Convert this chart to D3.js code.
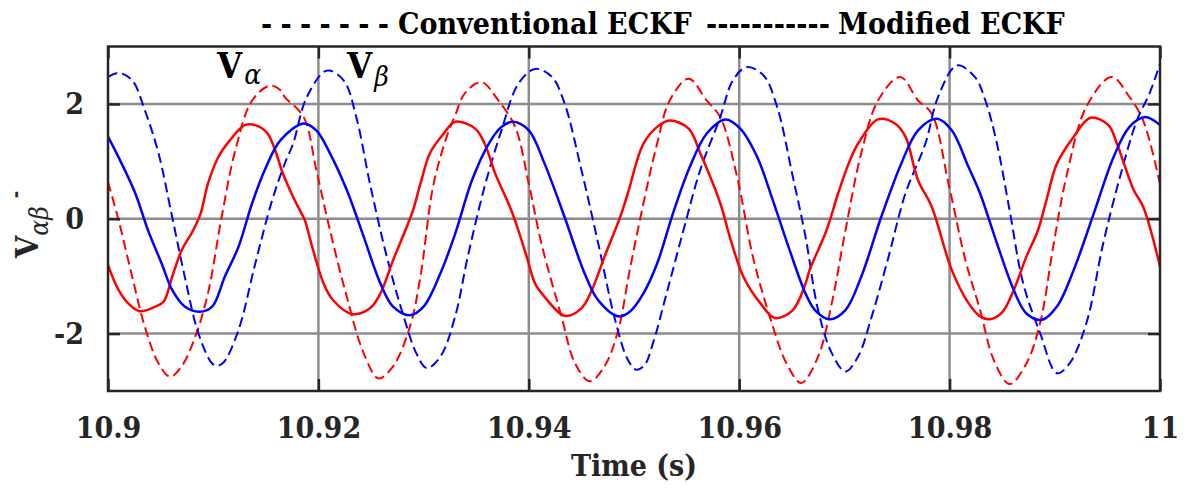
<!DOCTYPE html>
<html>
<head>
<meta charset="utf-8">
<script src="https://cdn.jsdelivr.net/npm/d3@7"></script>
<style>
  body { margin: 0; background: #fff; }
  .serif { font-family: "DejaVu Serif Condensed", "DejaVu Serif", serif; font-stretch: condensed; }
</style>
</head>
<body>
<div id="chart"></div>
<script>
// values: [time (s), voltage]
var redSolid = [
  [10.9000,-0.81],[10.9010,-1.24],[10.9019,-1.47],[10.9030,-1.61],[10.9045,-1.53],[10.9053,-1.44],
  [10.9061,-1.01],[10.9070,-0.55],[10.9081,-0.20],[10.9088,0.09],[10.9095,0.61],[10.9105,1.08],
  [10.9116,1.37],[10.9130,1.63],[10.9140,1.63],[10.9151,1.50],[10.9159,1.19],[10.9165,0.85],
  [10.9176,0.38],[10.9184,0.09],[10.9187,-0.02],[10.9195,-0.55],[10.9205,-1.13],[10.9214,-1.42],
  [10.9232,-1.66],[10.9249,-1.56],[10.9259,-1.30],[10.9271,-0.72],[10.9284,-0.14],[10.9290,0.15],
  [10.9297,0.61],[10.9306,1.14],[10.9319,1.48],[10.9330,1.69],[10.9349,1.57],[10.9358,1.31],
  [10.9368,0.79],[10.9382,0.21],[10.9389,-0.14],[10.9398,-0.66],[10.9406,-1.13],[10.9415,-1.36],
  [10.9434,-1.69],[10.9450,-1.56],[10.9460,-1.24],[10.9472,-0.66],[10.9482,-0.20],[10.9488,0.09],
  [10.9496,0.56],[10.9501,0.90],[10.9509,1.31],[10.9522,1.60],[10.9534,1.71],[10.9552,1.57],
  [10.9563,1.14],[10.9582,0.27],[10.9591,-0.31],[10.9604,-1.01],[10.9620,-1.47],[10.9634,-1.73],
  [10.9651,-1.59],[10.9663,-1.13],[10.9667,-0.89],[10.9683,-0.20],[10.9694,0.44],[10.9704,0.96],
  [10.9713,1.31],[10.9732,1.73],[10.9748,1.66],[10.9758,1.43],[10.9770,0.67],[10.9783,0.21],
  [10.9802,-0.89],[10.9818,-1.47],[10.9829,-1.70],[10.9838,-1.75],[10.9850,-1.63],[10.9861,-1.24],
  [10.9873,-0.66],[10.9884,-0.20],[10.9892,0.32],[10.9902,0.96],[10.9918,1.43],[10.9934,1.76],
  [10.9951,1.63],[10.9959,1.31],[10.9975,0.50],[10.9984,0.21],[11.0000,-0.83]
];

var blueSolid = [
  [10.9000,1.43],[10.9013,0.96],[10.9026,0.44],[10.9038,-0.20],[10.9051,-0.78],[10.9061,-1.24],
  [10.9073,-1.53],[10.9087,-1.62],[10.9099,-1.53],[10.9111,-1.01],[10.9124,-0.49],[10.9137,0.27],
  [10.9149,0.85],[10.9164,1.37],[10.9186,1.66],[10.9198,1.54],[10.9211,1.14],[10.9227,0.50],
  [10.9243,-0.31],[10.9259,-1.13],[10.9271,-1.53],[10.9287,-1.68],[10.9300,-1.53],[10.9316,-0.95],
  [10.9330,-0.26],[10.9346,0.67],[10.9362,1.31],[10.9374,1.60],[10.9385,1.69],[10.9400,1.54],
  [10.9415,0.96],[10.9434,0.03],[10.9453,-0.95],[10.9466,-1.42],[10.9485,-1.70],[10.9496,-1.62],
  [10.9509,-1.30],[10.9522,-0.78],[10.9537,0.09],[10.9553,0.90],[10.9569,1.48],[10.9587,1.73],
  [10.9601,1.57],[10.9617,1.08],[10.9632,0.32],[10.9648,-0.55],[10.9663,-1.30],[10.9672,-1.59],
  [10.9686,-1.75],[10.9701,-1.59],[10.9716,-1.01],[10.9735,0.03],[10.9754,0.96],[10.9770,1.54],
  [10.9788,1.74],[10.9802,1.54],[10.9818,0.90],[10.9829,0.44],[10.9845,-0.43],[10.9861,-1.24],
  [10.9873,-1.65],[10.9888,-1.76],[10.9902,-1.53],[10.9918,-0.89],[10.9937,0.09],[10.9956,1.08],
  [10.9971,1.60],[10.9986,1.77],[11.0000,1.63]
];

var redDashed = [
  [10.9000,0.64],[10.9010,-0.02],[10.9023,-1.01],[10.9035,-1.88],[10.9048,-2.52],[10.9059,-2.75],
  [10.9070,-2.57],[10.9083,-2.05],[10.9095,-1.30],[10.9108,0.03],[10.9121,1.19],[10.9137,2.06],
  [10.9154,2.32],[10.9164,2.24],[10.9168,2.12],[10.9186,1.77],[10.9198,0.85],[10.9211,-0.20],
  [10.9227,-1.36],[10.9243,-2.34],[10.9257,-2.78],[10.9271,-2.57],[10.9287,-1.88],[10.9297,-1.01],
  [10.9309,0.56],[10.9322,1.43],[10.9330,1.80],[10.9339,2.18],[10.9355,2.38],[10.9371,2.06],
  [10.9387,1.60],[10.9400,0.61],[10.9412,-0.43],[10.9431,-1.70],[10.9444,-2.52],[10.9458,-2.83],
  [10.9472,-2.57],[10.9485,-1.94],[10.9496,-0.89],[10.9509,0.27],[10.9522,1.31],[10.9534,2.06],
  [10.9552,2.44],[10.9569,2.06],[10.9582,1.77],[10.9598,0.73],[10.9613,-0.66],[10.9629,-1.70],
  [10.9645,-2.52],[10.9659,-2.86],[10.9675,-2.40],[10.9688,-1.47],[10.9701,-0.20],[10.9716,1.14],
  [10.9732,2.06],[10.9753,2.47],[10.9770,2.06],[10.9783,1.83],[10.9799,0.61],[10.9815,-0.72],
  [10.9829,-1.59],[10.9842,-2.46],[10.9857,-2.88],[10.9873,-2.52],[10.9886,-1.82],[10.9899,-0.43],
  [10.9911,0.73],[10.9930,1.95],[10.9954,2.47],[10.9971,2.12],[10.9984,1.71],[11.0000,0.61]
];

var blueDashed = [
  [10.9000,2.47],[10.9010,2.54],[10.9023,2.41],[10.9035,1.89],[10.9048,1.14],[10.9061,0.03],
  [10.9073,-1.01],[10.9086,-2.00],[10.9099,-2.52],[10.9104,-2.56],[10.9110,-2.50],[10.9124,-1.94],
  [10.9140,-0.78],[10.9156,0.32],[10.9168,0.96],[10.9176,1.31],[10.9189,2.12],[10.9208,2.58],
  [10.9224,2.41],[10.9236,1.77],[10.9249,0.61],[10.9265,-0.66],[10.9281,-1.70],[10.9293,-2.34],
  [10.9303,-2.60],[10.9316,-2.40],[10.9330,-1.70],[10.9342,-0.66],[10.9358,0.56],[10.9374,1.54],
  [10.9390,2.35],[10.9406,2.61],[10.9422,2.47],[10.9434,2.01],[10.9450,0.85],[10.9466,-0.43],
  [10.9482,-1.76],[10.9494,-2.45],[10.9502,-2.63],[10.9510,-2.55],[10.9518,-2.17],[10.9531,-1.30],
  [10.9547,-0.20],[10.9563,0.85],[10.9582,1.77],[10.9594,2.41],[10.9607,2.64],[10.9623,2.50],
  [10.9636,1.95],[10.9651,0.73],[10.9663,-0.31],[10.9675,-1.59],[10.9688,-2.34],[10.9701,-2.66],
  [10.9713,-2.40],[10.9726,-1.70],[10.9742,-0.66],[10.9758,0.44],[10.9777,1.31],[10.9789,2.12],
  [10.9807,2.67],[10.9824,2.47],[10.9834,2.06],[10.9845,1.31],[10.9857,0.15],[10.9870,-1.13],
  [10.9886,-1.99],[10.9902,-2.69],[10.9914,-2.52],[10.9930,-1.82],[10.9946,-0.43],[10.9962,0.73],
  [10.9978,1.71],[10.9990,2.18],[11.0000,2.70]
];

var xTicks = [10.9, 10.92, 10.94, 10.96, 10.98, 11];
var xTickLabels = ["10.9", "10.92", "10.94", "10.96", "10.98", "11"];
var yTicks = [-2, 0, 2];
var yTickLabels = ["-2", "0", "2"];
var legendNames = ["Conventional ECKF", "Modified ECKF"];
var legendDashes = ["- - - - - - -", "-----------"];

var svgWidth = 1184, svgHeight = 488;
var margin = { top: 46.5, right: 24, bottom: 97, left: 108 };
var width = svgWidth - margin.left - margin.right;
var height = svgHeight - margin.top - margin.bottom;

var svg = d3.select("#chart").append("svg")
  .attr("width", svgWidth)
  .attr("height", svgHeight);

var chartGroup = svg.append("g")
  .attr("transform", `translate(${margin.left}, ${margin.top})`);

var x = d3.scaleLinear().domain([10.9, 11]).range([0, width]);
var y = d3.scaleLinear().domain([-3, 3]).range([height, 0]);

// grid
chartGroup.append("g").selectAll("line")
  .data(yTicks).enter().append("line")
  .attr("x1", 0).attr("x2", width)
  .attr("y1", d => y(d)).attr("y2", d => y(d))
  .attr("stroke", "#8c8c8c").attr("stroke-width", 2.5);

chartGroup.append("g").selectAll("line")
  .data(xTicks.slice(1, -1)).enter().append("line")
  .attr("x1", d => x(d)).attr("x2", d => x(d))
  .attr("y1", 0).attr("y2", height)
  .attr("stroke", "#8c8c8c").attr("stroke-width", 2.5);

// curves
svg.append("defs").append("clipPath").attr("id", "clip")
  .append("rect").attr("width", width).attr("height", height);

var line = d3.line()
  .x(d => x(d[0]))
  .y(d => y(d[1]))
  .curve(d3.curveCatmullRom.alpha(0.5));

var plot = chartGroup.append("g").attr("clip-path", "url(#clip)");

plot.append("path").datum(redDashed)
  .attr("d", line).attr("fill", "none").attr("stroke", "#ff0000")
  .attr("stroke-width", 2).attr("stroke-dasharray", "10,5");
plot.append("path").datum(blueDashed)
  .attr("d", line).attr("fill", "none").attr("stroke", "#0000ff")
  .attr("stroke-width", 2).attr("stroke-dasharray", "10,5");
plot.append("path").datum(redSolid)
  .attr("d", line).attr("fill", "none").attr("stroke", "#ff0000")
  .attr("stroke-width", 2.5);
plot.append("path").datum(blueSolid)
  .attr("d", line).attr("fill", "none").attr("stroke", "#0000ff")
  .attr("stroke-width", 2.5);

// axes (ticks point inward, box on all sides like matlab)
var tickLen = 12;
var bottomAxis = d3.axisBottom(x).tickValues(xTicks).tickFormat((d, i) => xTickLabels[i])
  .tickSizeInner(-tickLen).tickSizeOuter(0).tickPadding(tickLen + 14);
var topAxis = d3.axisTop(x).tickValues(xTicks).tickFormat("").tickSizeInner(-tickLen).tickSizeOuter(0);
var leftAxis = d3.axisLeft(y).tickValues(yTicks).tickFormat((d, i) => yTickLabels[i])
  .tickSizeInner(-tickLen).tickSizeOuter(0).tickPadding(tickLen + 12);
var rightAxis = d3.axisRight(y).tickValues(yTicks).tickFormat("").tickSizeInner(-tickLen).tickSizeOuter(0);

var gx = chartGroup.append("g").attr("transform", `translate(0, ${height})`).call(bottomAxis);
var gt = chartGroup.append("g").call(topAxis);
var gy = chartGroup.append("g").call(leftAxis);
var gr = chartGroup.append("g").attr("transform", `translate(${width}, 0)`).call(rightAxis);

[gx, gt, gy, gr].forEach(function(g) {
  g.select(".domain").remove();
  g.selectAll(".tick line").attr("stroke", "#262626").attr("stroke-width", 2.5);
  g.selectAll("text").attr("class", "serif").attr("font-size", 30)
    .attr("font-weight", "bold").attr("fill", "#262626");
});
gx.selectAll("text").attr("dy", "0.71em");

chartGroup.append("rect")
  .attr("width", width).attr("height", height)
  .attr("fill", "none").attr("stroke", "#262626").attr("stroke-width", 2.5);

// axis labels
svg.append("text")
  .attr("class", "serif")
  .attr("x", margin.left + width / 2).attr("y", 476)
  .attr("text-anchor", "middle")
  .attr("font-size", 30).attr("font-weight", "bold").attr("fill", "#262626")
  .text("Time (s)");

var yLab = svg.append("text")
  .attr("class", "serif")
  .attr("transform", "translate(38, 258) rotate(-90)")
  .attr("fill", "#262626");
yLab.append("tspan").attr("font-size", 32).attr("font-weight", "bold").text("V");
yLab.append("tspan").attr("font-size", 26).attr("font-style", "italic").attr("dy", 10).text("αβ");
yLab.append("tspan").attr("font-size", 20).attr("font-weight", "bold").attr("dy", -26).attr("dx", 8).text("-");

// V alpha / V beta annotations
var va = svg.append("text").attr("class", "serif").attr("x", 217).attr("y", 78).attr("fill", "#000");
va.append("tspan").attr("font-size", 36).attr("font-weight", "bold").text("V");
va.append("tspan").attr("font-size", 28).attr("font-style", "italic").attr("dy", 6).attr("dx", 2).text("α");

var vb = svg.append("text").attr("class", "serif").attr("x", 347).attr("y", 78).attr("fill", "#000");
vb.append("tspan").attr("font-size", 36).attr("font-weight", "bold").text("V");
vb.append("tspan").attr("font-size", 28).attr("font-style", "italic").attr("dy", 8).attr("dx", 2).text("β");

// legend (text dashes, as in the figure)
var legendX = [[261, 398], [706, 838]];
var dashWidth = [128, 124];
legendNames.forEach(function(name, i) {
  svg.append("text").attr("class", "serif")
    .attr("x", legendX[i][0]).attr("y", 34)
    .attr("font-size", 30).attr("font-weight", "bold").attr("fill", "#000")
    .attr("textLength", dashWidth[i]).attr("lengthAdjust", "spacing")
    .text(legendDashes[i]);
  svg.append("text").attr("class", "serif")
    .attr("x", legendX[i][1]).attr("y", 34)
    .attr("font-size", 30).attr("font-weight", "bold").attr("fill", "#000")
    .text(name);
});
</script>
</body>
</html>
